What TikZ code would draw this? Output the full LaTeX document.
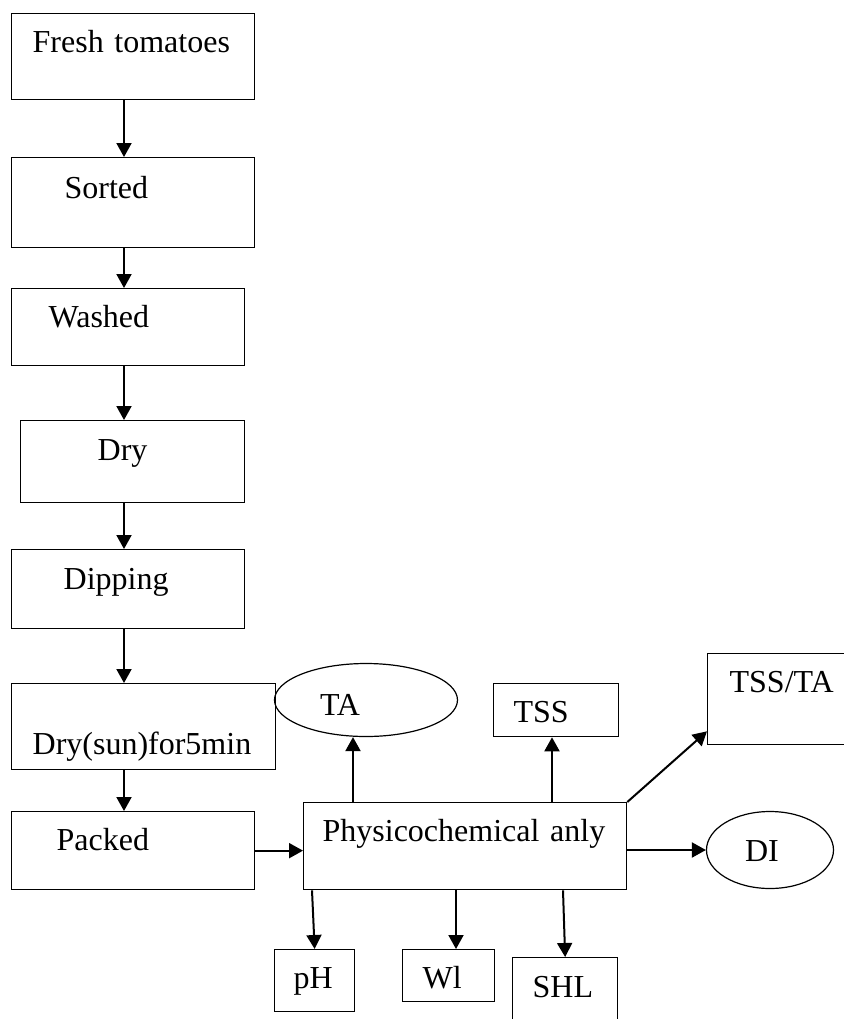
\documentclass[tikz,border=0pt]{standalone}
\usepackage{fontspec}
\setmainfont{Liberation Serif}
\usepackage{tikz}
\usetikzlibrary{arrows.meta,calc,shapes.geometric}

\begin{document}
\begin{tikzpicture}[
 x=0.5pt,y=-0.5pt,
 every node/.style={font=\fontsize{16}{19}\selectfont},
 box/.style={draw,line width=0.65pt,inner ysep=0pt,align=left,anchor=north west},
 oval/.style={ellipse,draw,line width=0.6pt,inner sep=0pt,align=left},
 arr/.style={-{Triangle[length=7pt,width=7.5pt]},line width=1pt}
]
\useasboundingbox (0,0) rectangle (843,1019);
\node[box,inner xsep=10.5pt,text width=100.5pt,text height=19.5pt,text depth=23.5pt] (fresh) at (11,13) {Fresh tomatoes};
\node[box,inner xsep=26.5pt,text width=68.5pt,text height=20.5pt,text depth=24.5pt] (sorted) at (11,157) {Sorted};
\node[box,inner xsep=18.5pt,text width=79.5pt,text height=19.5pt,text depth=19pt] (washed) at (11,288) {Washed};
\node[box,inner xsep=38.5pt,text width=35pt,text height=20pt,text depth=21pt] (dry) at (20,420) {Dry};
\node[box,inner xsep=26pt,text width=64.5pt,text height=20pt,text depth=19.5pt] (dipping) at (11,549) {Dipping};
\node[box,inner xsep=10.5pt,text width=111pt,text height=35.5pt,text depth=7.5pt] (sundry) at (11,683) {Dry(sun)for5min};
\node[box,inner xsep=22.5pt,text width=76.5pt,text height=19.5pt,text depth=19.5pt] (packed) at (11,811) {Packed};
\node[box,inner xsep=9.5pt,text width=142.5pt,text height=19.5pt,text depth=24pt] (physico) at (303,802) {Physicochemical anly};
\node[oval,text width=46pt,text height=15pt,text depth=0pt,minimum width=91.5pt,minimum height=36.5pt] (ta) at (366,700) {TA};
\node[box,inner xsep=10pt,text width=42.5pt,text height=19.5pt,text depth=7pt] (tss) at (493,683) {TSS};
\node[box,inner xsep=11pt,text width=59.5pt,text height=19.5pt,text depth=26pt] (tssta) at (707,653) {TSS/TA};
\node[oval,text width=25pt,text height=11pt,text depth=0pt,minimum width=63.5pt,minimum height=38.5pt] (di) at (770,850) {DI};
\node[box,inner xsep=9.5pt,text width=21pt,text height=19.5pt,text depth=11.5pt] (ph) at (274,949) {pH};
\node[box,inner xsep=10pt,text width=26pt,text height=19.5pt,text depth=6.5pt] (wl) at (402,949) {Wl};
\node[box,inner xsep=10pt,text width=32.5pt,text height=20pt,text depth=21.5pt] (shl) at (512,957) {SHL};
\coordinate (spine) at (124,0);
\coordinate (taX) at (353,0);
\coordinate (tssX) at (552,0);
\coordinate (phX) at (312,0);
\coordinate (wlX) at (456,0);
\coordinate (shlX) at (563,0);
\draw[arr] (fresh.south -| spine)--(sorted.north -| spine);\draw[arr] (sorted.south -| spine)--(washed.north -| spine);
\draw[arr] (washed.south -| spine)--(dry.north -| spine);\draw[arr] (dry.south -| spine)--(dipping.north -| spine);
\draw[arr] (dipping.south -| spine)--(sundry.north -| spine);\draw[arr] (sundry.south -| spine)--(packed.north -| spine);
\draw[arr] (packed.east)--(packed.east -| physico.west);
\draw[arr] (physico.north -| taX)--(ta.south -| taX);\draw[arr] (physico.north -| tssX)--(tss.south -| tssX);
\draw[arr] (physico.north east)--($(tssta.south west)+(0,-14)$);
\draw[arr] (di.west -| physico.east)--(di.west);
\draw[arr] (physico.south -| phX)--(ph.north);\draw[arr] (physico.south -| wlX)--(wl.north -| wlX);
\draw[arr] (physico.south -| shlX)--(shl.north);
\end{tikzpicture}
\end{document}
